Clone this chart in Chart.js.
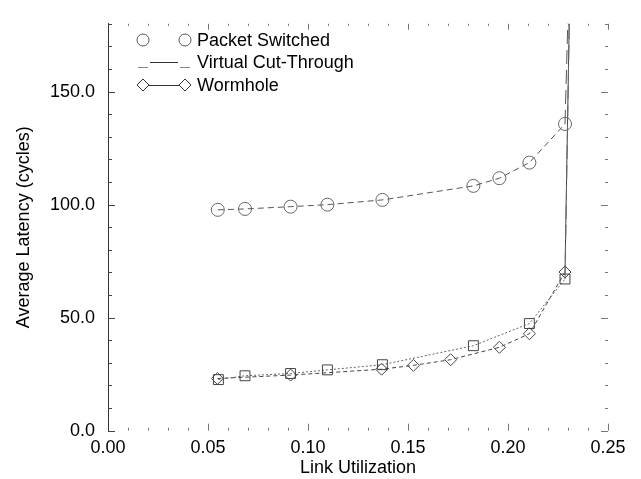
<!DOCTYPE html>
<html>
<head>
<meta charset="utf-8">
<script src="https://cdn.jsdelivr.net/npm/chart.js@4/dist/chart.umd.min.js"></script>
<style>
  html, body { margin: 0; padding: 0; background: #fff; }
  #wrap { width: 641px; height: 479px; }
</style>
</head>
<body>
<div id="wrap"><canvas id="latency_canvas"></canvas></div>
<script>
// values (last point of each series = saturation, off the top)
const psUtil = [0.0549, 0.0685, 0.0913, 0.1097, 0.1372, 0.1827, 0.1957, 0.2107, 0.2285, 0.2305]
const psLatency = [97.7, 98.1, 99.1, 100.0, 102.1, 108.3, 111.7, 118.6, 135.7, 200]

const vctUtil = [0.0552, 0.0685, 0.0913, 0.1097, 0.1372, 0.1827, 0.2107, 0.2285, 0.2310]
const vctLatency = [22.6, 24.3, 25.3, 26.9, 29.2, 37.6, 47.4, 67.1, 200]

const whUtil = [0.0547, 0.0913, 0.1368, 0.1527, 0.1713, 0.1957, 0.2107, 0.2285, 0.2310]
const whLatency = [23.1, 24.6, 27.2, 28.9, 31.4, 36.9, 42.9, 70.2, 200]

const seriesNames = ['Packet Switched', 'Virtual Cut-Through', 'Wormhole']
const yTicks = [0, 50, 100, 150]
const xTicks = [0, 0.05, 0.10, 0.15, 0.20, 0.25]

const FONT = 'Liberation Sans, Arial, Helvetica, sans-serif'

function toPoints(xs, ys) {
    return xs.map((x, i) => ({x: x, y: ys[i]}))
}

// last segment (the climb off the top) gets its own dash
function lastDash(n, normal, last) {
    return ctx => ctx.p1DataIndex === n - 1 ? last : normal
}

// little inward tick marks on all four sides
const tickMarks = {
    id: 'tickMarks',
    afterDraw(chart) {
        const ctx = chart.ctx
        const xs = chart.scales.x
        const ys = chart.scales.y
        const a = chart.chartArea
        ctx.save()
        ctx.lineWidth = 1
        for (let v = 0; v <= 180; v += 10) {
            const py = Math.round(ys.getPixelForValue(v)) + 0.5
            const major = v % 50 === 0
            ctx.strokeStyle = '#444'
            ctx.beginPath()
            ctx.moveTo(a.left, py)
            ctx.lineTo(a.left + (major ? 7 : 4), py)
            ctx.stroke()
            ctx.strokeStyle = '#777'
            ctx.beginPath()
            ctx.moveTo(a.right, py)
            ctx.lineTo(a.right - (major ? 7 : 3), py)
            ctx.stroke()
        }
        for (let i = 1; i <= 25; i++) {
            const px = Math.round(xs.getPixelForValue(i / 100)) + 0.5
            const major = i % 5 === 0
            ctx.strokeStyle = '#777'
            ctx.beginPath()
            ctx.moveTo(px, a.bottom)
            ctx.lineTo(px, a.bottom - (major ? 7 : 3))
            ctx.stroke()
            ctx.beginPath()
            ctx.moveTo(px, a.top)
            ctx.lineTo(px, a.top + (major ? 6 : 2))
            ctx.stroke()
        }
        ctx.restore()
    }
}

// legend drawn like the original: marker, line, marker, text
const lineLegend = {
    id: 'lineLegend',
    afterDraw(chart) {
        const ctx = chart.ctx
        const rows = [40, 62, 85]
        const x1 = 143, x2 = 185, tx = 197
        ctx.save()
        ctx.lineWidth = 1
        ctx.strokeStyle = '#555'
        // Packet Switched: two circles
        ctx.beginPath(); ctx.arc(x1, rows[0], 6, 0, Math.PI * 2); ctx.stroke()
        ctx.beginPath(); ctx.arc(x2, rows[0], 6, 0, Math.PI * 2); ctx.stroke()
        // Virtual Cut-Through: line with low dashes at the ends
        ctx.strokeStyle = '#333'
        ctx.beginPath(); ctx.moveTo(x1 + 7, rows[1] + 0.5); ctx.lineTo(x2 - 7, rows[1] + 0.5); ctx.stroke()
        ctx.strokeStyle = '#888'
        ctx.beginPath(); ctx.moveTo(x1 - 5, rows[1] + 5.5); ctx.lineTo(x1 + 5, rows[1] + 5.5); ctx.stroke()
        ctx.beginPath(); ctx.moveTo(x2 - 5, rows[1] + 5.5); ctx.lineTo(x2 + 5, rows[1] + 5.5); ctx.stroke()
        // Wormhole: diamonds and line
        ctx.strokeStyle = '#333'
        ctx.beginPath(); ctx.moveTo(x1 + 6, rows[2] + 0.5); ctx.lineTo(x2 - 6, rows[2] + 0.5); ctx.stroke()
        ;[x1, x2].forEach(cx => {
            ctx.beginPath()
            ctx.moveTo(cx - 6, rows[2]); ctx.lineTo(cx, rows[2] - 6)
            ctx.lineTo(cx + 6, rows[2]); ctx.lineTo(cx, rows[2] + 6)
            ctx.closePath(); ctx.stroke()
        })
        ctx.fillStyle = '#000'
        ctx.font = '18px ' + FONT
        ctx.textBaseline = 'middle'
        seriesNames.forEach((name, i) => ctx.fillText(name, tx, rows[i] + 1))
        ctx.restore()
    }
}

const setup = {
    datasets: [{
        label: seriesNames[0],
        data: toPoints(psUtil, psLatency),
        borderColor: '#555',
        borderWidth: 1,
        segment: {borderDash: lastDash(psUtil.length, [6, 4], [14, 6])},
        pointStyle: 'circle',
        pointRadius: 6.5,
        pointBorderColor: '#666',
        pointBackgroundColor: 'rgba(0,0,0,0)',
        pointBorderWidth: 1,
        tension: 0
    }, {
        label: seriesNames[1],
        data: toPoints(vctUtil, vctLatency),
        borderColor: '#666',
        borderWidth: 1,
        segment: {borderDash: lastDash(vctUtil.length, [2, 2], [14, 6])},
        pointStyle: 'rect',
        pointRadius: 7,
        pointBorderColor: '#444',
        pointBackgroundColor: 'rgba(0,0,0,0)',
        pointBorderWidth: 1,
        tension: 0
    }, {
        label: seriesNames[2],
        data: toPoints(whUtil, whLatency),
        borderColor: '#444',
        borderWidth: 1,
        segment: {borderDash: lastDash(whUtil.length, [4, 3], [])},
        pointStyle: 'rectRot',
        pointRadius: 6,
        pointBorderColor: '#444',
        pointBackgroundColor: 'rgba(0,0,0,0)',
        pointBorderWidth: 1,
        tension: 0
    }]
}

const chart = new Chart(document.getElementById('latency_canvas'), {
    type: 'line',
    data: setup,
    options: {
        responsive: true,
        maintainAspectRatio: false,
        animation: false,
        layout: {
            padding: {top: 11, right: 33, bottom: 0, left: 0}
        },
        plugins: {
            legend: {display: false},
            tooltip: {enabled: false}
        },
        scales: {
            x: {
                type: 'linear',
                min: 0,
                max: 0.25,
                grid: {display: false, drawTicks: false},
                border: {display: false},
                afterBuildTicks: scale => { scale.ticks = xTicks.map(v => ({value: v})) },
                afterFit: scale => { scale.height = 48.3 },
                ticks: {
                    padding: 7,
                    color: '#000',
                    font: {family: FONT, size: 18},
                    maxRotation: 0,
                    callback: v => Number(v).toFixed(2)
                },
                title: {
                    display: true,
                    text: 'Link Utilization',
                    color: '#000',
                    font: {family: FONT, size: 18},
                    padding: {top: 0, bottom: 0}
                }
            },
            y: {
                type: 'linear',
                min: 0,
                max: 180,
                grid: {display: false, drawTicks: false},
                border: {display: true, color: '#333', width: 1},
                afterBuildTicks: scale => { scale.ticks = yTicks.map(v => ({value: v})) },
                afterFit: scale => { scale.width = 108 },
                ticks: {
                    padding: 13,
                    color: '#000',
                    font: {family: FONT, size: 18},
                    callback: v => Number(v).toFixed(1)
                },
                title: {
                    display: true,
                    text: 'Average Latency (cycles)',
                    color: '#000',
                    font: {family: FONT, size: 18},
                    padding: {top: 13, bottom: 0}
                }
            }
        }
    },
    plugins: [tickMarks, lineLegend]
})
</script>
</body>
</html>
